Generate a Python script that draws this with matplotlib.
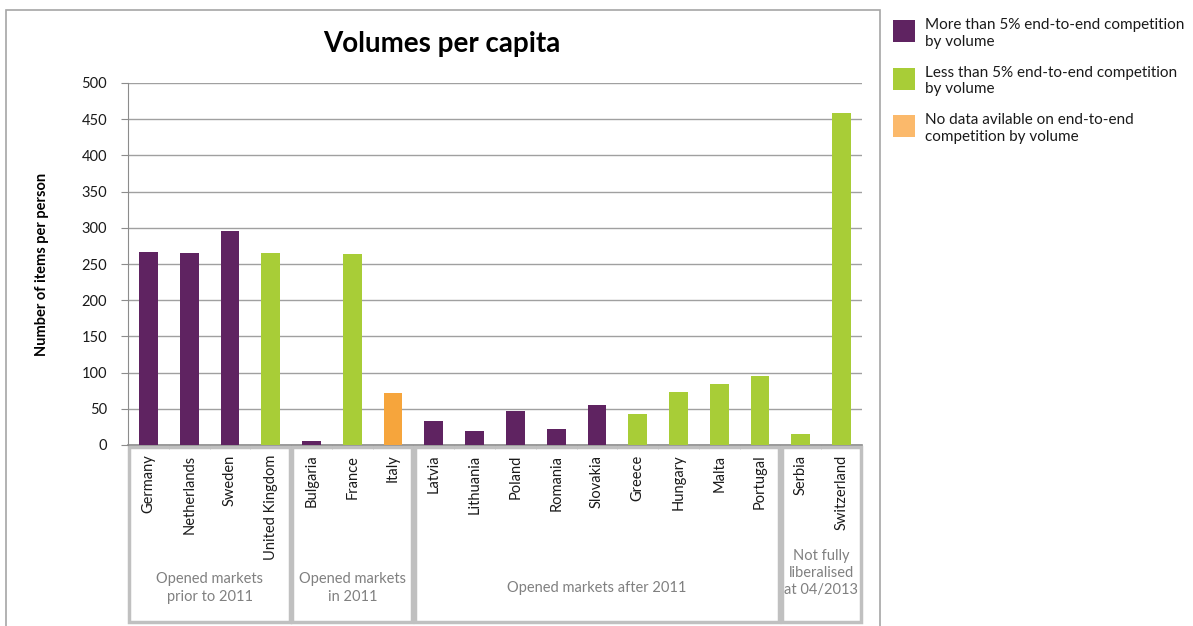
import numpy as np
import matplotlib.pyplot as plt
from matplotlib.patches import Rectangle

plt.rcParams['font.family'] = ['Lato', 'DejaVu Sans']

countries = ['Germany', 'Netherlands', 'Sweden', 'United Kingdom',
             'Bulgaria', 'France', 'Italy',
             'Latvia', 'Lithuania', 'Poland', 'Romania', 'Slovakia',
             'Greece', 'Hungary', 'Malta', 'Portugal',
             'Serbia', 'Switzerland']
volumes = [266, 265, 295, 265,
           5, 264, 72,
           33, 20, 47, 22, 55,
           43, 73, 84, 95,
           15, 458]
# 0 = more than 5% competition, 1 = less than 5%, 2 = no data
category = [0, 0, 0, 1,
            0, 1, 2,
            0, 0, 0, 0, 0,
            1, 1, 1, 1,
            1, 1]
groups = ['Opened markets\nprior to 2011', 'Opened markets\nin 2011',
          'Opened markets after 2011', 'Not fully\nliberalised\nat 04/2013']
group_sizes = [4, 3, 9, 2]
legend_labels = ['More than 5% end-to-end competition\nby volume',
                 'Less than 5% end-to-end competition\nby volume',
                 'No data avilable on end-to-end\ncompetition by volume']

bar_colors = ['#5F2361', '#A8CD37', '#F6A53C']
legend_colors = ['#5F2361', '#A8CD37', '#FBB96B']

W, H = 1193, 626
fig = plt.figure(figsize=(W / 100, H / 100), dpi=100)

# outer chart frame
fig.patches.append(Rectangle((6 / W, -0.1), (880 - 6) / W, 1.1 - 10 / H,
                             transform=fig.transFigure, fill=False,
                             edgecolor='#A6A6A6', linewidth=1.2))

ax = fig.add_axes([128 / W, (H - 445) / H, (862 - 128) / W, (445 - 83) / H])
x = np.arange(len(countries))
ax.bar(x, volumes, width=0.46, color=[bar_colors[c] for c in category], zorder=3)

ax.set_xlim(-0.5, len(countries) - 0.5)
ax.set_ylim(0, 500)
ax.set_yticks(np.arange(0, 501, 50))
ax.tick_params(axis='y', labelsize=10.5, length=5, color='#8C8C8C',
               labelcolor='#1A1A1A', pad=10)
ax.grid(axis='y', color='#A0A0A0', linewidth=1, zorder=0)
for s in ['top', 'right']:
    ax.spines[s].set_visible(False)
ax.spines['left'].set_color('#8C8C8C')
ax.spines['bottom'].set_color('#8C8C8C')
ax.spines['bottom'].set_linewidth(1.2)

ax.set_xticks(x)
ax.set_xticklabels(countries, rotation=90, fontsize=10.5, color='#1A1A1A', va='top')
ax.tick_params(axis='x', length=0, pad=7)
ax.set_xticks(np.arange(-0.5, len(countries), 1), minor=True)
ax.tick_params(axis='x', which='minor', length=3, color='#BFBFBF')

ax.set_ylabel('Number of items per person', fontsize=10.5, fontweight='bold')
ax.yaxis.set_label_coords(-0.118 + 8 / 734, 0.5)

fig.text(442 / W, 1 - 44 / H, 'Volumes per capita', fontsize=20,
         fontweight='bold', ha='center', va='center')

# group boxes under the category labels
trans = ax.get_xaxis_transform()
y_top = -2 / 362
y_bot = -(622 - 445) / 362
start = -0.5
for label, n in zip(groups, group_sizes):
    ax.add_patch(Rectangle((start + 0.03, y_bot), n - 0.06, y_top - y_bot,
                           transform=trans, fill=False, edgecolor='#C0C0C0',
                           linewidth=2.5, clip_on=False))
    if n == 2:
        ty = -(573 - 445) / 362
    else:
        ty = -(588 - 445) / 362
    ax.text(start + n / 2, ty, label, transform=trans, ha='center', va='center',
            fontsize=10.5, color='#808080', linespacing=1.3)
    start += n

# legend: colour squares with two-line labels
for i, (c, lab) in enumerate(zip(legend_colors, legend_labels)):
    top = 20 + i * 47.5
    fig.patches.append(Rectangle((893 / W, 1 - (top + 22) / H), 22 / W, 22 / H,
                                 transform=fig.transFigure, facecolor=c,
                                 edgecolor='none'))
    fig.text(925 / W, 1 - (top - 2) / H, lab, fontsize=11, color='#1A1A1A',
             ha='left', va='top', linespacing=1.25)

fig.savefig('out.png', dpi=100)
